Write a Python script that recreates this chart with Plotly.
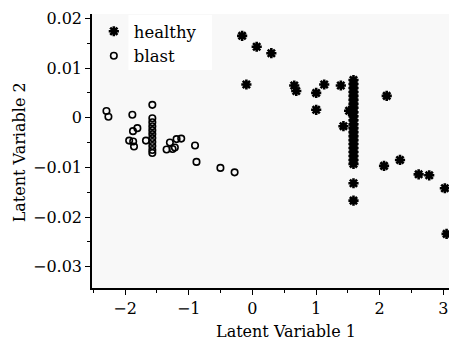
import plotly.graph_objects as go

# Healthy samples (Latent Variable 1, Latent Variable 2)
healthy_lv1 = [-0.161, 0.068, 0.298, -0.094, 0.658, 0.690, 1.003, 1.129, 1.003, 1.390,
               2.111, 1.431, 1.520,
               1.589, 1.589, 1.589, 1.589, 1.589, 1.589, 1.589, 1.589, 1.589, 1.589, 1.589,
               1.589, 1.589, 1.589, 1.589, 1.589, 1.589, 1.589, 1.589, 1.589, 1.589, 1.589,
               1.589, 1.589,
               2.069, 2.320, 2.613, 2.779, 3.025, 3.052]
healthy_lv2 = [0.0165, 0.0143, 0.0130, 0.0067, 0.0065, 0.0054, 0.0050, 0.0067, 0.0016, 0.0065,
               0.0044, -0.0017, 0.0014,
               0.0076, 0.0068, 0.0060, 0.0052, 0.0044, 0.0036, 0.0028, 0.0020, 0.0011, 0.0003, -0.0005,
               -0.0013, -0.0021, -0.0029, -0.0037, -0.0045, -0.0053, -0.0061, -0.0069, -0.0077, -0.0085, -0.0093,
               -0.0132, -0.0167,
               -0.0097, -0.0085, -0.0114, -0.0116, -0.0142, -0.0234]

# Blast samples
blast_lv1 = [-2.293, -2.262, -1.886, -1.807, -1.876, -1.936, -1.873, -1.860, -1.672,
             -1.572, -1.572, -1.572, -1.572, -1.572, -1.572, -1.572, -1.572, -1.572, -1.572, -1.572,
             -1.348, -1.296, -1.254, -1.218, -1.191, -1.118, -0.901, -0.878, -0.502, -0.279]
blast_lv2 = [0.00137, 0.0002, 0.0006, -0.0021, -0.0027, -0.0046, -0.0048, -0.0058, -0.0046,
             0.0026, -0.0001, -0.0009, -0.0017, -0.0025, -0.0033, -0.0041, -0.0049, -0.0057, -0.0065, -0.0071,
             -0.0064, -0.0050, -0.0063, -0.0060, -0.0043, -0.0042, -0.0056, -0.0089, -0.0101, -0.0110]

x_ticks = [-2, -1, 0, 1, 2, 3]
x_ticktext = ["\u22122", "\u22121", "0", "1", "2", "3"]
y_ticks = [0.02, 0.01, 0, -0.01, -0.02, -0.03]
y_ticktext = ["0.02", "0.01", "0", "\u22120.01", "\u22120.02", "\u22120.03"]

FONT = "DejaVu Serif"

fig = go.Figure()
fig.add_trace(go.Scatter(
    x=healthy_lv1, y=healthy_lv2, mode="markers", name="healthy",
    marker=dict(symbol="asterisk-open", size=8.5, color="black",
                line=dict(color="black", width=2.6)),
))
fig.add_trace(go.Scatter(
    x=blast_lv1, y=blast_lv2, mode="markers", name="blast",
    marker=dict(symbol="circle-open", size=6.5, color="black",
                line=dict(color="black", width=1.6)),
))

fig.update_layout(
    width=449, height=338,
    margin=dict(l=84, r=1, t=6, b=58),
    paper_bgcolor="white",
    plot_bgcolor="#f8f8f8",
    font=dict(family=FONT, size=16, color="black"),
    showlegend=True,
    legend=dict(x=0.005, y=1.0, xanchor="left", yanchor="top",
                bgcolor="rgba(255,255,255,0)", font=dict(size=16.5, family=FONT),
                itemsizing="trace", tracegroupgap=0),
    shapes=[dict(type="rect", xref="paper", yref="paper", x0=0.1, x1=0.33,
                 y0=0.796, y1=0.996, fillcolor="white", line=dict(width=0), layer="below")],
    annotations=[
        dict(text="Latent Variable 1", xref="paper", yref="paper", x=0.533, y=-0.16,
             xanchor="center", yanchor="middle", showarrow=False, font=dict(size=16, family=FONT)),
        dict(text="Latent Variable 2", xref="paper", yref="paper", x=-0.2, y=0.496,
             xanchor="center", yanchor="middle", textangle=-90, showarrow=False,
             font=dict(size=16, family=FONT)),
    ],
)
fig.update_xaxes(
    range=[-2.52, 3.2], tickvals=x_ticks, ticktext=x_ticktext,
    showgrid=False, zeroline=False, showline=True, linecolor="black", linewidth=1.5,
    ticks="outside", ticklen=5, tickwidth=1.3, tickcolor="black",
    minor=dict(dtick=0.5, tick0=0, ticks="outside", ticklen=3, tickcolor="black", showgrid=False),
    tickfont=dict(size=16, family=FONT),
)
fig.update_yaxes(
    range=[-0.0343, 0.0209], tickvals=y_ticks, ticktext=y_ticktext,
    showgrid=False, zeroline=False, showline=True, linecolor="black", linewidth=1.5,
    ticks="outside", ticklen=5, tickwidth=1.3, tickcolor="black",
    minor=dict(dtick=0.005, tick0=0, ticks="outside", ticklen=3, tickcolor="black", showgrid=False),
    tickfont=dict(size=16, family=FONT),
)

fig.write_html("out.html")
